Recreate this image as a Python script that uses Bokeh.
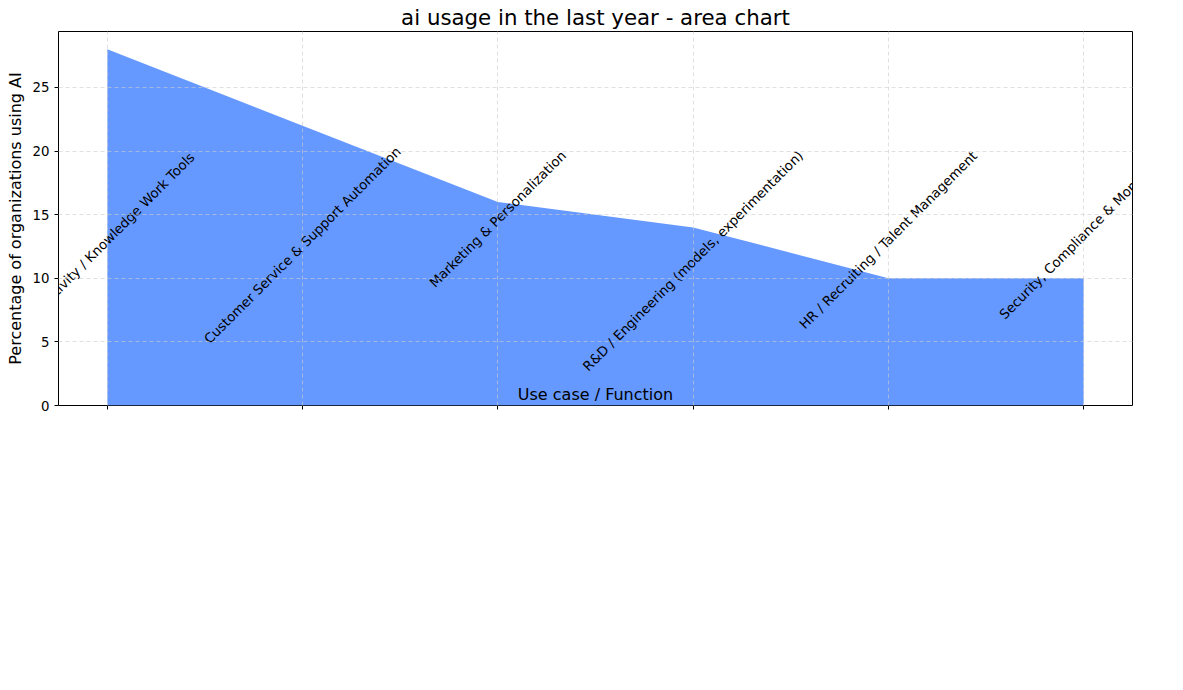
import math
from bokeh.plotting import figure
from bokeh.models import Range1d, FixedTicker, Label
from bokeh.embed import file_html
from bokeh.resources import INLINE

categories = ["Productivity / Knowledge Work Tools", "Customer Service & Support Automation",
              "Marketing & Personalization", "R&D / Engineering (models, experimentation)",
              "HR / Recruiting / Talent Management", "Security, Compliance & Monitoring"]
values = [28, 22, 16, 14, 10, 10]
xs = list(range(len(categories)))

H = 674
BOTTOM = 269
p = figure(width=1167, height=H, output_backend="svg", toolbar_location=None,
           x_range=Range1d(-0.25, 5.25), y_range=Range1d(0, 29.4),
           min_border_left=58, min_border_right=35, min_border_bottom=BOTTOM, min_border_top=0)
p.title.text = "ai usage in the last year - area chart"
p.title.align = "center"
p.title.text_font = "DejaVu Sans"
p.title.text_font_size = "16pt"
p.title.text_font_style = "normal"
p.title.text_color = "black"
p.title.standoff = 4
p.varea(x=xs, y1=[0]*len(xs), y2=values, fill_color="#6699ff", fill_alpha=1.0)

p.xaxis.ticker = FixedTicker(ticks=xs)
p.xaxis.major_label_text_font_size = "0px"
p.yaxis.ticker = FixedTicker(ticks=[0, 5, 10, 15, 20, 25])
for ax in (p.xaxis, p.yaxis):
    ax.major_label_text_font = "DejaVu Sans"
    ax.major_label_text_color = "black"
    ax.axis_label_text_font = "DejaVu Sans"
    ax.axis_label_text_font_size = "12pt"
    ax.axis_label_text_font_style = "normal"
    ax.axis_label_text_color = "black"
    ax.minor_tick_line_color = None
    ax.major_tick_out = 4
    ax.major_tick_in = 0
    ax.axis_line_color = None
p.yaxis.major_label_text_font_size = "10pt"
p.yaxis.axis_label = "Percentage of organizations using AI"

for i, c in enumerate(categories):
    L = len(c) * 7.4
    dy = 12 + L * 0.7071 / 2
    p.add_layout(Label(x=i, y=BOTTOM - dy, y_units="screen", text=c, angle=math.pi / 4,
                       text_align="center", text_baseline="middle",
                       text_font="DejaVu Sans", text_font_size="10pt", text_color="black"))
p.add_layout(Label(x=2.5, y=H - 671 + 8, y_units="screen", text="Use case / Function",
                   text_align="center", text_baseline="middle",
                   text_font="DejaVu Sans", text_font_size="12pt", text_color="black"))

p.outline_line_color = "black"
p.outline_line_alpha = 1
p.grid.grid_line_color = "#cccccc"
p.grid.grid_line_alpha = 0.6
p.grid.grid_line_dash = "4 3"
p.grid.level = "overlay"

open("out.html", "w").write(file_html(p, INLINE))
